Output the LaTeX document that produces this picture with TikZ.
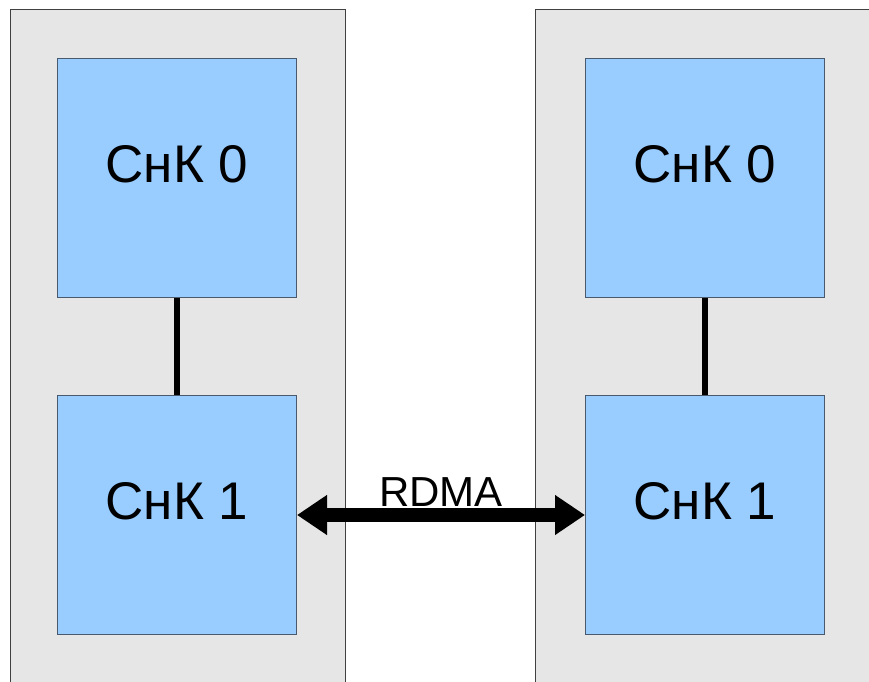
\documentclass[tikz,border=0pt]{standalone}
\usepackage{fontspec}
\setmainfont{Liberation Sans}
\usepackage{tikz}
\usetikzlibrary{positioning,arrows.meta}
\definecolor{panelgray}{HTML}{E6E6E6}
\definecolor{socblue}{HTML}{99CCFF}
\definecolor{socedge}{HTML}{4A5A6E}

\begin{document}
\begin{tikzpicture}[x=1pt,y=1pt,
    panel/.style={draw=black!75, fill=panelgray, line width=1pt},
    soc/.style={draw=socedge, fill=socblue, line width=1pt,
        minimum width=239pt, minimum height=239pt, text depth=28pt,
        font=\fontsize{53}{60}\selectfont},
    link/.style={line width=6pt},
    rdma/.style={line width=14pt,
        {Triangle[length=30pt,width=38pt]}-{Triangle[length=30pt,width=38pt]}}]
    \clip (0,0) rectangle (869,681);
    \fill[white] (0,0) rectangle (869,681);
    % two hosts
    \draw[panel] (10,-10) rectangle (345,671);
    \draw[panel] (535,-10) rectangle (890,671);
    % left host
    \node[soc] (l0) at (177,503) {СнК 0};
    \node[soc, below=97pt of l0] (l1) {СнК 1};
    % right host
    \node[soc, right=288pt of l0] (r0) {СнК 0};
    \node[soc, below=97pt of r0] (r1) {СнК 1};
    \draw[link] (l0) -- (l1);
    \draw[link] (r0) -- (r1);
    \draw[rdma] (l1.east) -- (r1.west)
        node[midway, above=9pt, inner sep=0pt, outer sep=0pt,
             font=\fontsize{42}{50}\selectfont] (rdmalbl) {RDMA};
\end{tikzpicture}
\end{document}
